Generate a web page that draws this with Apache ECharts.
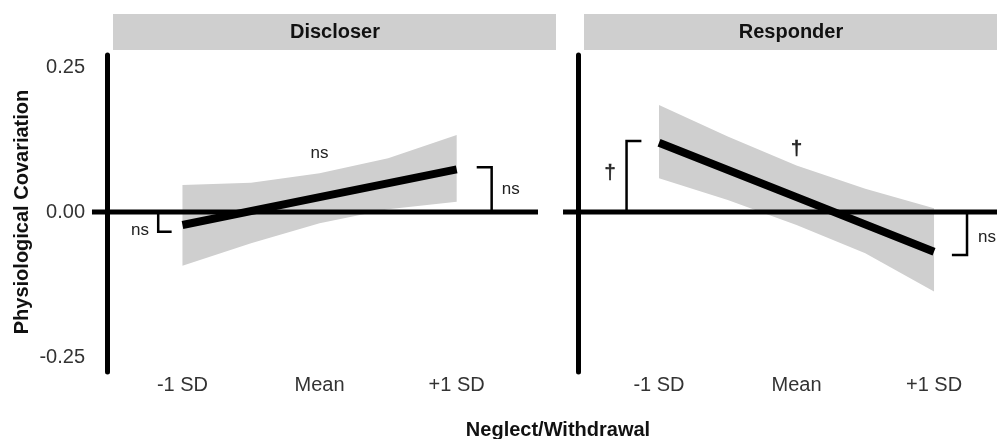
<!DOCTYPE html>
<html>
<head>
<meta charset="utf-8">
<script src="https://cdn.jsdelivr.net/npm/echarts@6/dist/echarts.min.js"></script>
<style>
  html, body { margin: 0; padding: 0; background: #ffffff; }
  #chart { width: 997px; height: 439px; }
</style>
</head>
<body>
<div id="chart"></div>
<script>
// Moderator levels on the x axis and their tick labels
const sdLevels = [-1, 0, 1];
const tickLabels = ['-1 SD', 'Mean', '+1 SD'];
const yTicks = [-0.25, 0, 0.25];
const facetNames = ['Discloser', 'Responder'];

// Confidence band sample points along the moderator
const bandX = [-1, -0.5, 0, 0.5, 1];

// Discloser: fitted covariation and 95% band
const discloserFit = [-0.0224, 0.0256, 0.0736];
const discloserLower = [-0.0925, -0.054, -0.0195, 0.0046, 0.0178];
const discloserUpper = [0.0466, 0.0505, 0.0667, 0.0925, 0.1328];
// simple-slope brackets at -1 SD and +1 SD
const discloserBrackets = [-0.034, 0.077];
const discloserMarks = ['ns', 'ns', 'ns']; // overall slope, -1 SD, +1 SD

// Responder: fitted covariation and 95% band
const responderFit = [0.1195, 0.0256, -0.0684];
const responderLower = [0.058, 0.0207, -0.0224, -0.071, -0.137];
const responderUpper = [0.1845, 0.130, 0.080, 0.040, 0.0064];
const responderBrackets = [0.1224, -0.074];
const responderMarks = ['\u2020', '\u2020', 'ns'];

const FONT = 'Liberation Sans, Arial, sans-serif';
const GREY = '#cfcfcf';

// Panel layout (pixels): plotting area, strip extent, position of the vertical axis line
const panels = [
  { left: 88, right: 556, stripLeft: 114, axisX: 107, xMin: -1.689, xMax: 1.7243, zero: [-1.660, 1.593],
    bracketX: [[-1.177, -1.079], [1.255, 1.146]],
    slopeLabel: [0, 0.102], bracketLabels: [[-1.31, -0.031], [1.394, 0.039]] },
  { left: 560, right: 997, stripLeft: 585, axisX: 578, xMin: -1.72, xMax: 1.458, zero: [-1.698, 1.7],
    bracketX: [[-1.236, -1.128], [1.240, 1.130]],
    slopeLabel: [0, 0.107], bracketLabels: [[-1.356, 0.0667], [1.385, -0.043]] }
];
const TOP = 55, BOTTOM = 372, Y0PX = 212, PX_PER_UNIT = 580;
const yMax = (Y0PX - TOP) / PX_PER_UNIT;
const yMin = -(BOTTOM - Y0PX) / PX_PER_UNIT;

const facets = [
  { fit: discloserFit, lower: discloserLower, upper: discloserUpper, brackets: discloserBrackets, marks: discloserMarks },
  { fit: responderFit, lower: responderLower, upper: responderUpper, brackets: responderBrackets, marks: responderMarks }
];

const grids = [], xAxes = [], yAxes = [], series = [], graphics = [];

facets.forEach((f, i) => {
  const p = panels[i];
  grids.push({ left: p.left, width: p.right - p.left, top: TOP, height: BOTTOM - TOP, containLabel: false });
  xAxes.push({
    type: 'value', gridIndex: i, min: p.xMin, max: p.xMax,
    axisLine: { show: false, onZero: false }, axisTick: { show: false }, splitLine: { show: false },
    axisLabel: {
      customValues: sdLevels, margin: 3,
      formatter: v => tickLabels[sdLevels.indexOf(Math.round(v))] || '',
      fontFamily: FONT, fontSize: 20, color: '#333333'
    }
  });
  yAxes.push({
    type: 'value', gridIndex: i, min: yMin, max: yMax, offset: p.left - p.axisX,
    axisLine: { show: true, onZero: false, lineStyle: { color: '#000', width: 5 } },
    axisTick: { show: false }, splitLine: { show: false },
    axisLabel: {
      show: i === 0, customValues: yTicks, margin: 22,
      formatter: v => v.toFixed(2),
      fontFamily: FONT, fontSize: 20, color: '#333333'
    }
  });

  // confidence band
  series.push({
    type: 'custom', xAxisIndex: i, yAxisIndex: i, data: [[0, 0]], z: 1, silent: true, clip: false,
    renderItem: (params, api) => {
      const pts = [];
      bandX.forEach((x, k) => pts.push(api.coord([x, f.upper[k]])));
      for (let k = bandX.length - 1; k >= 0; k--) pts.push(api.coord([bandX[k], f.lower[k]]));
      return { type: 'polygon', shape: { points: pts }, style: { fill: GREY } };
    }
  });

  // zero reference line
  series.push({
    type: 'line', xAxisIndex: i, yAxisIndex: i, z: 2, silent: true, clip: false, symbol: 'none',
    data: [[p.zero[0], 0], [p.zero[1], 0]],
    lineStyle: { color: '#000', width: 5 }
  });

  // fitted line
  series.push({
    type: 'line', xAxisIndex: i, yAxisIndex: i, z: 3, silent: true, clip: false, symbol: 'none',
    data: sdLevels.map((x, k) => [x, f.fit[k]]),
    lineStyle: { color: '#000', width: 8, cap: 'butt' }
  });

  // simple-slope brackets
  f.brackets.forEach((h, k) => {
    const [bx, tip] = p.bracketX[k];
    series.push({
      type: 'line', xAxisIndex: i, yAxisIndex: i, z: 4, silent: true, clip: false, symbol: 'none',
      data: [[bx, 0], [bx, h], [tip, h]],
      lineStyle: { color: '#000', width: 2.5, join: 'miter' }
    });
  });

  // significance marks
  const labelPos = [p.slopeLabel, p.bracketLabels[0], p.bracketLabels[1]];
  series.push({
    type: 'custom', xAxisIndex: i, yAxisIndex: i, z: 5, silent: true, clip: false,
    data: labelPos.map((pos, k) => [pos[0], pos[1], k]),
    renderItem: (params, api) => {
      const c = api.coord([api.value(0), api.value(1)]);
      const mark = f.marks[api.value(2)];
      const size = mark === 'ns' ? 17 : 20;
      return {
        type: 'text', x: c[0], y: c[1],
        style: { text: mark, font: size + 'px ' + FONT, fill: '#222222', align: 'center', verticalAlign: 'middle',
                 stroke: mark === 'ns' ? null : '#222222', lineWidth: mark === 'ns' ? 0 : 0.6 }
      };
    }
  });

  // facet strip
  graphics.push({
    type: 'rect', left: p.stripLeft - 1, top: 14, z: 10,
    shape: { width: p.right - p.stripLeft + 1, height: 36 },
    style: { fill: GREY }
  });
  graphics.push({
    type: 'text', x: (p.stripLeft + p.right) / 2, y: 32, z: 11,
    style: { text: facetNames[i], font: 'bold 20px ' + FONT, fill: '#111111', align: 'center', verticalAlign: 'middle' }
  });
});

// axis titles
graphics.push({
  type: 'text', x: 558, y: 430, z: 11,
  style: { text: 'Neglect/Withdrawal', font: 'bold 20px ' + FONT, fill: '#111111', align: 'center', verticalAlign: 'middle' }
});
graphics.push({
  type: 'text', x: 22, y: 212, rotation: Math.PI / 2, z: 11,
  style: { text: 'Physiological Covariation', font: 'bold 20px ' + FONT, fill: '#111111', align: 'center', verticalAlign: 'middle' }
});

const chart = echarts.init(document.getElementById('chart'), null, { renderer: 'canvas' });
chart.setOption({
  animation: false,
  backgroundColor: '#ffffff',
  grid: grids,
  xAxis: xAxes,
  yAxis: yAxes,
  series: series,
  graphic: graphics
});
</script>
</body>
</html>
